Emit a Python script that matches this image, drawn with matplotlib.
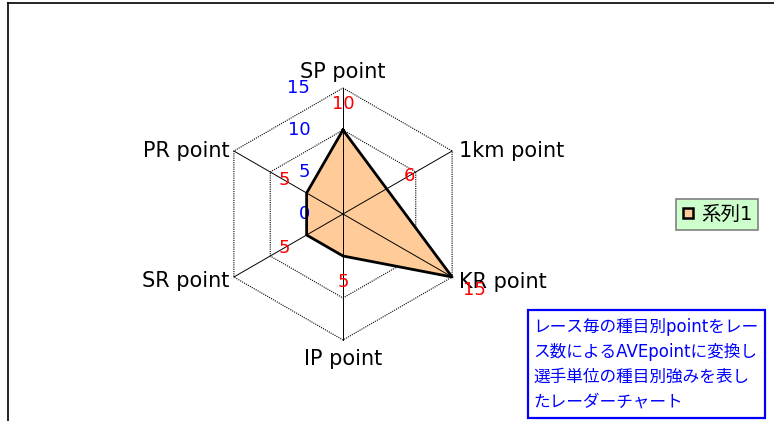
import numpy as np
import matplotlib
matplotlib.use("Agg")
import matplotlib.pyplot as plt
from matplotlib.lines import Line2D
from matplotlib.patches import Rectangle

plt.rcParams['font.family'] = ['DejaVu Sans', 'Noto Sans CJK JP']

# data
categories = ['SP point', '1km point', 'KR point', 'IP point', 'SR point', 'PR point']
values = [10, 6, 15, 5, 5, 5]
ring_values = [5, 10, 15]
tick_values = [0, 5, 10, 15]
series_name = '系列1'
note_lines = ['レース毎の種目別pointをレー',
              'ス数によるAVEpointに変換し',
              '選手単位の種目別強みを表し',
              'たレーダーチャート']

W, H = 774, 421
fig = plt.figure(figsize=(W / 100, H / 100), dpi=100)

# radar area: center (343, 214) px, radius 126 px
cx, cy, R = 343, 214, 126
ax = fig.add_axes([(cx - R) / W, (H - cy - R) / H, 2 * R / W, 2 * R / H],
                  projection='polar')
ax.set_theta_offset(np.pi / 2)
ax.set_theta_direction(-1)
ax.set_ylim(0, 15)
ax.axis('off')

theta = np.linspace(0, 2 * np.pi, len(categories), endpoint=False)
theta_c = np.append(theta, theta[0])

# hexagon rings (under the fill)
for r in ring_values:
    ax.plot(theta_c, [r] * len(theta_c), color='black', lw=0.8,
            ls=(0, (1, 1)), zorder=1, clip_on=False)

# filled series
vals_c = np.append(values, values[0])
ax.fill(theta_c, vals_c, facecolor='#FFCC99', edgecolor='none', zorder=2)

# spokes on top of the fill
for t in theta:
    ax.plot([t, t], [0, 15], color='black', lw=0.7, zorder=3, clip_on=False)

ax.plot(theta_c, vals_c, color='black', lw=2, zorder=4, clip_on=False)

# axis value labels (blue)
for v in tick_values:
    ax.annotate(str(v), xy=(0, v), xytext=(-23.5, 0), textcoords='offset points',
                ha='right', va='center', color='#0000FF', fontsize=13,
                annotation_clip=False)

# data labels (red), radially outward
off = 26 / 1.389
for t, v in zip(theta, values):
    ax.annotate(str(v), xy=(t, v),
                xytext=(off * np.sin(t), off * np.cos(t)),
                textcoords='offset points', ha='center', va='center',
                color='#FF0000', fontsize=13, annotation_clip=False, zorder=6)

# category labels
cat_pos = [((0, 11.5), 'center', 'center'),
           ((5, 0), 'left', 'center'),
           ((5, -3.5), 'left', 'center'),
           ((0, -13.5), 'center', 'center'),
           ((-3.5, -3), 'right', 'center'),
           ((-3, 0), 'right', 'center')]
for t, name, (xy_off, ha, va) in zip(theta, categories, cat_pos):
    ax.annotate(name, xy=(t, 15), xytext=xy_off, textcoords='offset points',
                ha=ha, va=va, color='black', fontsize=15,
                annotation_clip=False, zorder=5)

# legend
handle = Line2D([], [], marker='s', ls='none', markersize=7,
                markerfacecolor='#FFCC99', markeredgecolor='black',
                markeredgewidth=1.8)
leg = fig.legend([handle], [series_name], loc='center',
                 bbox_to_anchor=(717 / W, 1 - 214.5 / H),
                 fontsize=14, frameon=True, fancybox=False,
                 handlelength=0.7, handletextpad=0.3, borderpad=0.3,
                 borderaxespad=0)
leg.get_frame().set_facecolor('#CCFFCC')
leg.get_frame().set_edgecolor('#808080')
leg.get_frame().set_linewidth(1.2)
leg.get_frame().set_alpha(1)

# note box
fig.add_artist(Rectangle((528 / W, 1 - 418 / H), (765 - 528) / W, (418 - 310) / H,
                         transform=fig.transFigure, facecolor='white',
                         edgecolor='#0000FF', lw=1.6))
for i, line in enumerate(note_lines):
    fig.text(533 / W, 1 - (327 + i * 25) / H, line, ha='left', va='center',
             color='#0000FF', fontsize=12)

# chart-area frame (only top/left visible)
fig.add_artist(Line2D([8 / W, 1.0], [1 - 3 / H, 1 - 3 / H],
                      transform=fig.transFigure, color='black', lw=1.2))
fig.add_artist(Line2D([8 / W, 8 / W], [0, 1 - 3 / H],
                      transform=fig.transFigure, color='black', lw=1.2))

fig.savefig('out.png', dpi=100)
